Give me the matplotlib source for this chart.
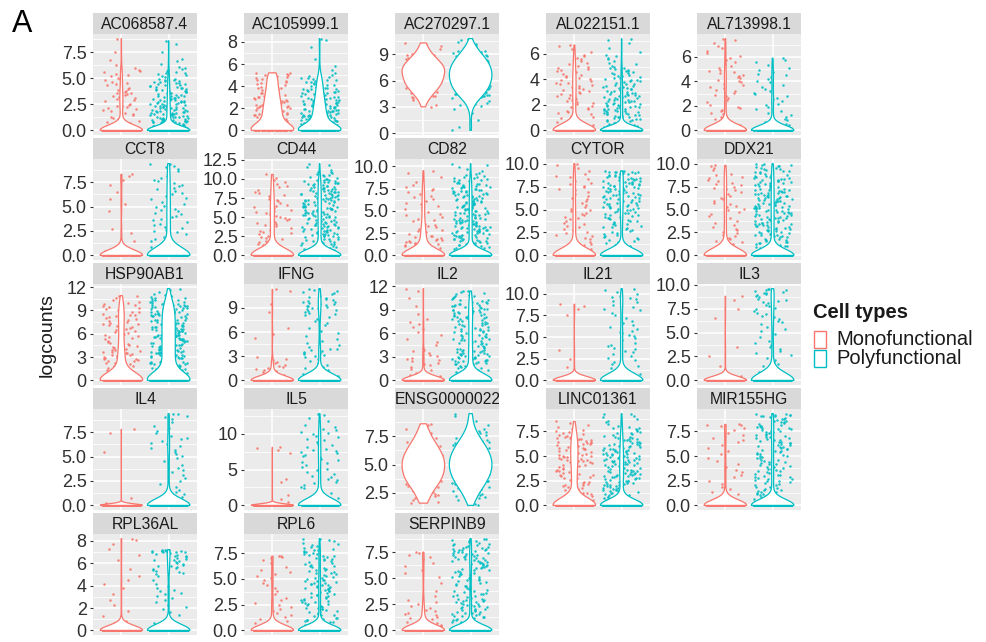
import numpy as np
import matplotlib
matplotlib.use("Agg")
import matplotlib.pyplot as plt
from matplotlib.patches import Rectangle

plt.rcParams["font.family"] = ["Liberation Sans", "DejaVu Sans"]

# ---- data -----------------------------------------------------------------
genes = ["AC068587.4", "AC105999.1", "AC270297.1", "AL022151.1", "AL713998.1",
         "CCT8", "CD44", "CD82", "CYTOR", "DDX21",
         "HSP90AB1", "IFNG", "IL2", "IL21", "IL3",
         "IL4", "IL5", "ENSG00000227", "LINC01361", "MIR155HG",
         "RPL36AL", "RPL6", "SERPINB9"]

groups = ["Monofunctional", "Polyfunctional"]
colors = ["#F8766D", "#00BFC4"]

# cells with zero counts, counts of expressing cells per unit bin [k, k+1),
# lowest and highest logcount of each group
mono_zeros = [200, 60, 0, 200, 250, 120, 150, 140, 180, 200, 140, 160,
              250, 150, 150, 400, 400, 0, 180, 200, 200, 180, 150]
mono_hist = [
    [8, 8, 12, 12, 8, 8, 2, 1, 0],
    [30, 30, 25, 20, 15, 6],
    [0, 0, 0, 3, 12, 21, 24, 26, 16, 6, 1],
    [8, 10, 12, 14, 12, 8, 3],
    [8, 8, 7, 8, 10, 6, 5, 2],
    [1, 1, 2, 0, 1, 2, 1, 2, 1],
    [6, 5, 6, 7, 6, 7, 7, 6, 5, 4, 2],
    [15, 14, 12, 8, 5, 6, 5, 5, 2, 1],
    [5, 6, 6, 6, 7, 5, 5, 6, 5, 3],
    [6, 6, 6, 5, 5, 6, 5, 7, 6, 4],
    [12, 12, 12, 12, 8, 8, 8, 8, 10, 8, 4],
    [10, 8, 5, 0, 0, 2, 1, 0, 1, 1, 0, 1],
    [6, 5, 6, 5, 3, 2, 3, 3, 1, 1, 1, 1],
    [1, 1, 1, 1, 0, 0, 0, 1, 2],
    [1, 1, 1, 1, 0, 0, 1, 1, 1],
    [2, 0, 0, 0, 0, 1, 0, 1],
    [3, 1, 0, 2, 0, 0, 0, 2, 1],
    [0, 2, 8, 18, 22, 22, 16, 8, 2],
    [10, 12, 14, 14, 18, 18, 18, 10, 2],
    [6, 4, 3, 4, 3, 3, 4, 4, 3],
    [4, 2, 2, 2, 3, 1, 2, 2, 1],
    [6, 5, 5, 3, 4, 5, 3, 3],
    [10, 8, 5, 2, 1, 3, 3, 3],
]
mono_low = [0, 0, 3.0, 0, 0, 0, 0, 0, 0, 0, 0, 0,
            0, 0, 0, 0, 0, 1.6, 0, 0, 0, 0, 0]
mono_high = [8.8, 5.2, 10.3, 6.7, 7.5, 8.3, 10.6, 9.5, 10.0, 9.8, 10.9, 11.3,
             11.7, 8.8, 8.8, 7.8, 8.1, 8.6, 8.5, 8.2, 8.2, 7.2, 7.5]

poly_zeros = [400, 120, 0, 500, 180, 150, 500, 500, 450, 500, 160, 300,
              350, 200, 220, 200, 200, 0, 380, 500, 350, 500, 600]
poly_hist = [
    [40, 35, 30, 25, 20, 12, 4, 1, 1],
    [60, 45, 35, 25, 18, 3, 1, 1, 1],
    [1, 1, 2, 10, 28, 38, 42, 40, 30, 15, 3],
    [25, 30, 28, 25, 18, 8, 3, 1],
    [8, 6, 8, 6, 7, 4],
    [5, 5, 7, 6, 7, 6, 6, 6, 4, 3],
    [15, 15, 18, 20, 20, 22, 22, 22, 20, 18, 10, 3],
    [20, 22, 25, 25, 22, 22, 22, 20, 15, 5, 1],
    [6, 8, 10, 12, 15, 18, 20, 22, 20, 8],
    [20, 18, 20, 20, 22, 22, 22, 20, 18, 15],
    [25, 25, 25, 25, 25, 25, 25, 25, 25, 22, 12, 3],
    [12, 5, 4, 10, 4, 3, 3, 4, 8, 12, 8, 3],
    [15, 12, 18, 18, 14, 15, 14, 15, 18, 16, 12, 4],
    [5, 4, 4, 6, 4, 6, 4, 3, 5, 7, 2],
    [6, 5, 4, 5, 3, 4, 6, 6, 8, 8],
    [5, 4, 3, 4, 3, 5, 6, 4, 3, 3],
    [6, 5, 4, 5, 4, 4, 5, 6, 4, 5, 5, 2, 2],
    [0, 2, 10, 20, 26, 26, 20, 10, 3, 1],
    [15, 18, 22, 24, 24, 22, 18, 12, 6, 2],
    [12, 14, 15, 16, 15, 14, 16, 18, 16, 8],
    [8, 4, 5, 7, 3, 12, 14, 12],
    [15, 14, 16, 16, 18, 14, 12, 15, 8],
    [15, 18, 20, 14, 12, 15, 20, 22, 14],
]
poly_low = [0, 0, 0.3, 0, 0, 0, 0, 0, 0, 0, 0, 0,
            0, 0, 0, 0, 0, 1.4, 0, 0, 0, 0, 0]
poly_high = [8.6, 8.3, 10.8, 7.2, 5.9, 9.4, 12.0, 10.3, 9.2, 10.0, 11.8, 11.4,
             11.4, 10.6, 9.6, 9.4, 12.8, 9.5, 9.3, 9.3, 7.2, 8.9, 8.8]

y_ticks = [
    ["0.0", "2.5", "5.0", "7.5"], ["0", "2", "4", "6", "8"], ["0", "3", "6", "9"],
    ["0", "2", "4", "6"], ["0", "2", "4", "6"],
    ["0.0", "2.5", "5.0", "7.5"], ["0.0", "2.5", "5.0", "7.5", "10.0", "12.5"],
    ["0.0", "2.5", "5.0", "7.5", "10.0"], ["0.0", "2.5", "5.0", "7.5", "10.0"],
    ["0.0", "2.5", "5.0", "7.5", "10.0"],
    ["0", "3", "6", "9", "12"], ["0", "3", "6", "9"], ["0", "3", "6", "9", "12"],
    ["0.0", "2.5", "5.0", "7.5", "10.0"], ["0.0", "2.5", "5.0", "7.5", "10.0"],
    ["0.0", "2.5", "5.0", "7.5"], ["0", "5", "10"], ["2.5", "5.0", "7.5"],
    ["0.0", "2.5", "5.0", "7.5"], ["0.0", "2.5", "5.0", "7.5"],
    ["0", "2", "4", "6", "8"], ["0.0", "2.5", "5.0", "7.5"], ["0.0", "2.5", "5.0", "7.5"],
]


# ---- helpers --------------------------------------------------------------
def expand(zeros, hist, lo, hi):
    vals = [0.0] * zeros
    for k, c in enumerate(hist):
        if c == 0:
            continue
        a, b = max(k, lo), min(k + 1, hi)
        vals.extend(a + (np.arange(c) + 0.5) / c * (b - a))
    if zeros == 0:
        vals.append(lo)
    vals.append(hi)
    return np.asarray(vals, dtype=float)


def bandwidth(x):
    # Silverman's rule of thumb on the standard deviation
    return 0.9 * np.std(x, ddof=1) * len(x) ** -0.2


def violin_outline(x, half_width=0.45):
    h = bandwidth(x)
    ys = np.linspace(x.min(), x.max(), 512)
    d = np.exp(-0.5 * ((ys[:, None] - x[None, :]) / h) ** 2).sum(axis=1)
    w = d / d.max() * half_width
    return ys, w


def jitter_offsets(n, seed, width=0.4):
    # deterministic hash spread in [-width, width] for horizontal jitter
    i = np.arange(n) + 1.0 + 97.0 * seed
    u = np.modf(np.abs(np.sin(i * 12.9898) * 43758.5453))[0]
    return (u - 0.5) * 2 * width


# ---- figure ---------------------------------------------------------------
W, H = 987, 642
fig = plt.figure(figsize=(W / 100, H / 100), dpi=100)

col_left, col_pitch, panel_w = 93, 151, 104
row_top, row_pitch, panel_h, strip_h = 34, 125, 101, 21

series = [(mono_zeros, mono_hist, mono_low, mono_high),
          (poly_zeros, poly_hist, poly_low, poly_high)]

for i, gene in enumerate(genes):
    r, c = divmod(i, 5)
    x0 = col_left + col_pitch * c
    top = row_top + row_pitch * r
    ax = fig.add_axes([x0 / W, 1 - (top + panel_h) / H, panel_w / W, panel_h / H])
    ax.set_facecolor("#EBEBEB")

    lo_all, hi_all = np.inf, -np.inf
    for g, (zs, hs, lows, highs) in enumerate(series):
        vals = expand(zs[i], hs[i], lows[i], highs[i])
        lo_all = min(lo_all, vals.min())
        hi_all = max(hi_all, vals.max())
        xc = g + 1
        ax.scatter(xc + jitter_offsets(len(vals), 2 * i + g), vals, s=3.2,
                   color=colors[g], alpha=0.9, linewidths=0, zorder=2)
        ys, w = violin_outline(vals)
        px = np.concatenate([xc - w, (xc + w)[::-1]])
        py = np.concatenate([ys, ys[::-1]])
        ax.fill(px, py, facecolor="white", edgecolor=colors[g], linewidth=0.9,
                zorder=3)

    span = hi_all - lo_all
    ymin, ymax = lo_all - 0.05 * span, hi_all + 0.05 * span
    ax.set_ylim(ymin, ymax)
    ax.set_xlim(0.4, 2.6)

    labels = y_ticks[i]
    pos = [float(t) for t in labels]
    ax.set_yticks(pos)
    ax.set_yticklabels(labels)
    step = pos[1] - pos[0]
    minor = np.arange(pos[0] - step / 2, ymax, step)
    for m in minor:
        if ymin < m < ymax:
            ax.axhline(m, color="white", lw=0.55, zorder=1)
    for p in pos:
        ax.axhline(p, color="white", lw=1.1, zorder=1)
    for xv in (1, 2):
        ax.axvline(xv, color="white", lw=1.1, zorder=1)

    ax.set_xticks([])
    ax.tick_params(axis="y", length=2.5, width=0.8, color="#333333", pad=2,
                   labelsize=13, labelcolor="#303030")
    for s in ax.spines.values():
        s.set_visible(False)

    sax = fig.add_axes([x0 / W, 1 - top / H, panel_w / W, strip_h / H])
    sax.set_facecolor("#D9D9D9")
    sax.set_xticks([])
    sax.set_yticks([])
    for s in sax.spines.values():
        s.set_visible(False)
    if gene.startswith("ENSG"):
        sax.text(-0.005, 0.45, gene, ha="left", va="center", fontsize=11.3,
                 color="#1A1A1A", transform=sax.transAxes, clip_on=True)
    else:
        sax.text(0.5, 0.45, gene, ha="center", va="center", fontsize=11.3,
                 color="#1A1A1A", transform=sax.transAxes)

# axis title and panel tag
fig.text(47 / W, 1 - 335 / H, "logcounts", rotation=90, ha="center",
         va="center", fontsize=14, color="#1A1A1A")
fig.text(12 / W, 1 - 24 / H, "A", ha="left", va="center", fontsize=22,
         color="black")

# legend
fig.text(813 / W, 1 - 312 / H, "Cell types", ha="left", va="center",
         fontsize=14.5, fontweight="bold", color="#1A1A1A")
for g, (name, col) in enumerate(zip(groups, colors)):
    ytop = 331 + 19 * g
    fig.add_artist(Rectangle((814 / W, 1 - (ytop + 17) / H), 12 / W, 17 / H,
                             transform=fig.transFigure, facecolor="white",
                             edgecolor=col, linewidth=1.0))
    fig.text(836 / W, 1 - (ytop + 9) / H, name, ha="left", va="center",
             fontsize=14.5, color="#1A1A1A")

fig.savefig("out.png", dpi=100)
